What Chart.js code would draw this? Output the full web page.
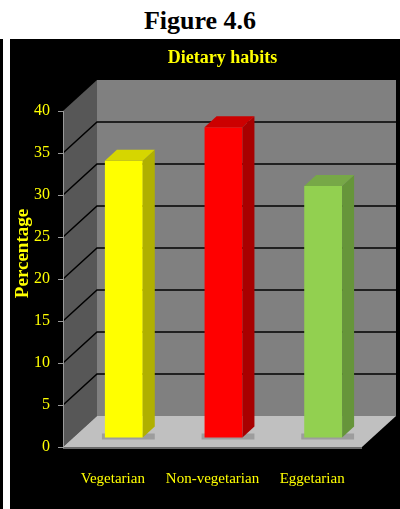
<!DOCTYPE html>
<html>
<head>
<meta charset="utf-8">
<script src="https://cdn.jsdelivr.net/npm/chart.js@4/dist/chart.umd.min.js"></script>
<style>
  body { margin: 0; background: #fff; width: 400px; height: 509px; overflow: hidden; }
  #head { height: 33px; padding-top: 6px; line-height: 33px; text-align: center;
          font: bold 26px "Liberation Serif", "Times New Roman", serif; color: #000; }
  #row { display: flex; height: 470px; }
  #edge { width: 3px; background: #000; }
  #gap { width: 7px; background: #fff; }
  #box { width: 390px; height: 470px; background: #000; position: relative; }
</style>
</head>
<body>
<div id="head">Figure 4.6</div>
<div id="row">
  <div id="edge"></div><div id="gap"></div>
  <div id="box"><canvas id="myChart" width="390" height="470"></canvas></div>
</div>
<script>
// data
var categories = ['Vegetarian', 'Non-vegetarian', 'Eggetarian'];
var percentages = [33, 37, 30];
var yMin = 0, yMax = 40, yStep = 5;

var frontColors = ['#ffff00', '#ff0000', '#92d050'];
var sideColors  = ['#b0b000', '#a80000', '#66953a'];
var topColors   = ['#d6d600', '#cc0000', '#77a847'];

var yellow = '#ffff00';
var serif = '"Liberation Serif", "Times New Roman", serif';

// 3d look: depth of the box, where the bars stand in it, depth of a bar
var depth = { x: 34, y: -31 };
var barShift = { x: 11, y: -9 };
var barDepth = { x: 12, y: -11 };

function poly(ctx, pts, fill) {
  ctx.beginPath();
  ctx.moveTo(pts[0][0], pts[0][1]);
  for (var i = 1; i < pts.length; i++) ctx.lineTo(pts[i][0], pts[i][1]);
  ctx.closePath();
  ctx.fillStyle = fill;
  ctx.fill();
}

var threeD = {
  id: 'threeD',
  beforeDraw: function(chart) {
    var ctx = chart.ctx, a = chart.chartArea, ys = chart.scales.y;
    var top = ys.getPixelForValue(yMax), bot = ys.getPixelForValue(yMin);
    ctx.save();
    // back wall
    ctx.fillStyle = '#808080';
    ctx.fillRect(a.left + depth.x, top + depth.y, a.right - a.left, bot - top);
    // side wall
    poly(ctx, [[a.left, top], [a.left + depth.x, top + depth.y],
               [a.left + depth.x, bot + depth.y], [a.left, bot]], '#575757');
    // grid lines across side and back wall
    ctx.strokeStyle = '#000';
    ctx.lineWidth = 1.5;
    ys.ticks.forEach(function(t) {
      if (t.value <= yMin || t.value >= yMax) return;
      var py = ys.getPixelForValue(t.value);
      ctx.beginPath();
      ctx.moveTo(a.left, py);
      ctx.lineTo(a.left + depth.x, py + depth.y);
      ctx.lineTo(a.right + depth.x, py + depth.y);
      ctx.stroke();
    });
    // floor
    poly(ctx, [[a.left, bot], [a.right, bot], [a.right + depth.x, bot + depth.y],
               [a.left + depth.x, bot + depth.y]], '#c0c0c0');
    ctx.fillStyle = '#6a6a6a';
    ctx.fillRect(a.left, bot, a.right - a.left, 2);
    ctx.restore();
  },
  beforeDatasetsDraw: function(chart) {
    var ctx = chart.ctx;
    ctx.save();
    ctx.translate(barShift.x, barShift.y);
    // soft shadows on the floor
    chart.getDatasetMeta(0).data.forEach(function(bar) {
      var l = bar.x - bar.width / 2, r = bar.x + bar.width / 2;
      ctx.fillStyle = 'rgba(0,0,0,0.18)';
      ctx.fillRect(l - 3, bar.base - 4, r - l + barDepth.x + 3, 6);
    });
  },
  afterDatasetsDraw: function(chart) {
    var ctx = chart.ctx;
    chart.getDatasetMeta(0).data.forEach(function(bar, i) {
      var l = bar.x - bar.width / 2, r = bar.x + bar.width / 2;
      poly(ctx, [[r, bar.y], [r + barDepth.x, bar.y + barDepth.y],
                 [r + barDepth.x, bar.base + barDepth.y], [r, bar.base]], sideColors[i]);
      poly(ctx, [[l, bar.y], [l + barDepth.x, bar.y + barDepth.y],
                 [r + barDepth.x, bar.y + barDepth.y], [r, bar.y]], topColors[i]);
    });
    ctx.restore();
  },
  afterDraw: function(chart) {
    var ctx = chart.ctx, a = chart.chartArea, ys = chart.scales.y;
    ctx.save();
    ctx.fillStyle = yellow;
    ctx.textAlign = 'center';
    ctx.textBaseline = 'middle';
    ctx.font = 'bold 18px ' + serif;
    ctx.fillText('Dietary habits', (a.left + a.right) / 2 + 10, 19);
    var mid = (ys.getPixelForValue(yMin) + ys.getPixelForValue(yMax) + depth.y) / 2 - 10;
    ctx.translate(13, mid);
    ctx.rotate(-Math.PI / 2);
    ctx.font = 'bold 19px ' + serif;
    ctx.fillText('Percentage', 0, 0);
    ctx.restore();
  }
};

var ctx = document.getElementById('myChart').getContext('2d');
var myChart = new Chart(ctx, {
  type: 'bar',
  data: {
    labels: categories,
    datasets: [{
      label: 'Percentage',
      data: percentages,
      backgroundColor: frontColors,
      borderWidth: 0,
      categoryPercentage: 1,
      barPercentage: 0.38
    }]
  },
  options: {
    responsive: false,
    animation: false,
    layout: { padding: { top: 72, right: 38, left: 0, bottom: 0 } },
    plugins: { legend: { display: false }, tooltip: { enabled: false }, title: { display: false } },
    scales: {
      x: {
        grid: { display: false },
        border: { display: false },
        ticks: { color: yellow, padding: 15, autoSkip: false, maxRotation: 0,
                 font: { family: serif, size: 15 } },
        afterFit: function(s) { s.height = 62; }
      },
      y: {
        min: yMin,
        max: yMax,
        ticks: { stepSize: yStep, color: yellow, padding: 8, font: { family: serif, size: 16 } },
        grid: { drawOnChartArea: false, drawTicks: true, tickLength: 5, color: '#9a9a9a' },
        border: { display: true, color: '#9a9a9a' },
        afterFit: function(s) { s.width = 53; }
      }
    }
  },
  plugins: [threeD]
});
</script>
</body>
</html>
